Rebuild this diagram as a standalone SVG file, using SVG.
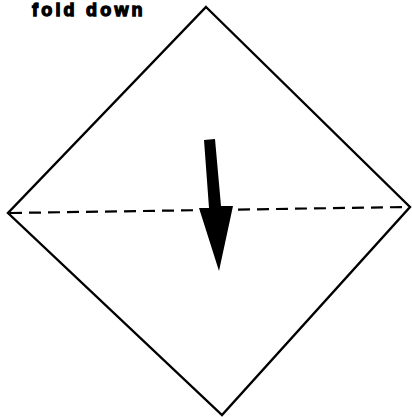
<svg xmlns="http://www.w3.org/2000/svg" width="412" height="417" viewBox="0 0 412 417">
<style>
.edge{fill:none;stroke:#000;stroke-width:2.4;stroke-linejoin:miter}
.fold{fill:none;stroke:#000;stroke-width:2.2;stroke-dasharray:12 7}
.lbl{font-family:"Liberation Sans",Arial,sans-serif;font-weight:bold;font-size:18px;letter-spacing:3.2px;fill:#000;stroke:#000;stroke-width:1.3}
</style>
<rect width="412" height="417" fill="#fff"/>
<g id="label"><text class="lbl" x="32" y="15.5">fold down</text></g>
<g id="paper"><polygon class="edge" points="206,7 410,207 222,415 8,213"/></g>
<g id="connectors">
<line class="fold" x1="10" y1="213" x2="408" y2="207"/>
<polygon id="arrow" fill="#000" points="204,140 215,139 221,206 233,206 219,271 199,208 209,208"/>
</g>
</svg>
